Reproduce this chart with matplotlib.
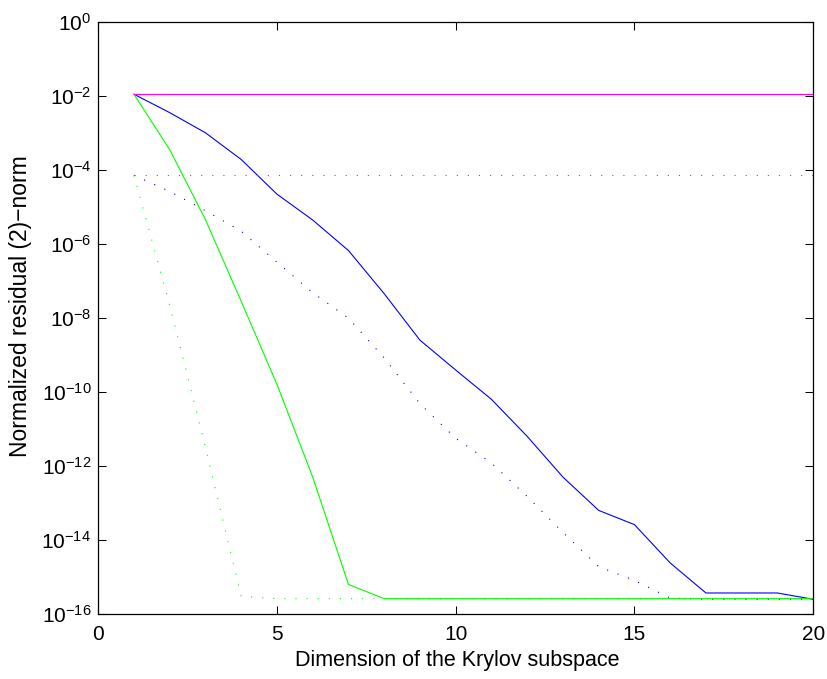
import numpy as np
import matplotlib
matplotlib.use("Agg")
import matplotlib.pyplot as plt
from matplotlib.ticker import FixedLocator, LogFormatterMathtext, NullLocator

plt.rcParams["font.family"] = ["Liberation Sans", "DejaVu Sans"]
plt.rcParams["mathtext.default"] = "regular"
plt.rcParams["axes.unicode_minus"] = True

# dimension of the Krylov subspace
dims = list(range(1, 21))

blue_solid = [1.1e-2, 3.5e-3, 1.0e-3, 1.9e-4, 2.2e-5, 4.4e-6, 6.6e-7, 4.5e-8,
              2.5e-9, 3.9e-10, 6.3e-11, 6.3e-12, 5.0e-13, 6.3e-14, 2.6e-14,
              2.4e-15, 3.7e-16, 3.7e-16, 3.7e-16, 2.5e-16]
blue_dotted = [7.1e-5, 2.6e-5, 7.9e-6, 2.2e-6, 3.2e-7, 4.8e-8, 9.8e-9, 8.3e-10,
               4.8e-11, 5.6e-12, 1.2e-12, 1.5e-13, 1.6e-14, 1.9e-15, 8.1e-16,
               2.7e-16, 2.5e-16, 2.5e-16, 2.5e-16, 2.5e-16]
green_solid = [1.1e-2, 3.5e-4, 4.5e-6, 2.8e-8, 1.6e-10, 5.0e-13, 6.3e-16, 2.6e-16,
               2.6e-16, 2.6e-16, 2.6e-16, 2.6e-16, 2.6e-16, 2.6e-16, 2.6e-16,
               2.6e-16, 2.6e-16, 2.6e-16, 2.6e-16, 2.6e-16]
green_dotted = [7.1e-5, 2.2e-8, 3.2e-12, 3.0e-16, 2.6e-16, 2.6e-16, 2.6e-16, 2.6e-16,
                2.6e-16, 2.6e-16, 2.6e-16, 2.6e-16, 2.6e-16, 2.6e-16, 2.6e-16,
                2.6e-16, 2.6e-16, 2.6e-16, 2.6e-16, 2.6e-16]
magenta_solid = [1.13e-2] * 20
magenta_dotted = [7.1e-5] * 20

yticks = [1e0, 1e-2, 1e-4, 1e-6, 1e-8, 1e-10, 1e-12, 1e-14, 1e-16]
xticks = [0, 5, 10, 15, 20]

DOT = (0, (1.0, 9.0))

fig = plt.figure(figsize=(8.28, 6.79), dpi=100)
ax = fig.add_axes([0.1186, 0.0957, 0.8635, 0.8723])

ax.semilogy(dims, blue_solid, color=(0, 0, 1), lw=0.8)
ax.semilogy(dims, blue_dotted, color=(0, 0, 1), lw=0.8, ls=DOT)
ax.semilogy(dims, green_solid, color=(0, 1, 0), lw=0.8)
ax.semilogy(dims, green_dotted, color=(0, 1, 0), lw=0.8, ls=DOT)
ax.semilogy(dims, magenta_solid, color=(1, 0, 1), lw=0.8)
ax.semilogy(dims, magenta_dotted, color=(1, 0, 1), lw=0.8, ls=DOT)

ax.set_xlim(0, 20)
ax.set_ylim(1e-16, 1e0)
ax.xaxis.set_major_locator(FixedLocator(xticks))
ax.yaxis.set_major_locator(FixedLocator(yticks))
ax.yaxis.set_major_formatter(LogFormatterMathtext())
ax.yaxis.set_minor_locator(NullLocator())
ax.tick_params(direction="in", top=True, right=True, length=5.5, width=0.75,
               labelsize=15)
ax.tick_params(axis="x", pad=8)
ax.tick_params(axis="y", pad=5)
for s in ax.spines.values():
    s.set_linewidth(0.9)

ax.set_xlabel("Dimension of the Krylov subspace", fontsize=15.5)
ax.set_ylabel("Normalized residual (2)\u2212norm", fontsize=16.5)
ax.xaxis.set_label_coords(0.5015, -0.061)
ax.yaxis.set_label_coords(-0.093, 0.52)

fig.savefig("out.png", dpi=100)
